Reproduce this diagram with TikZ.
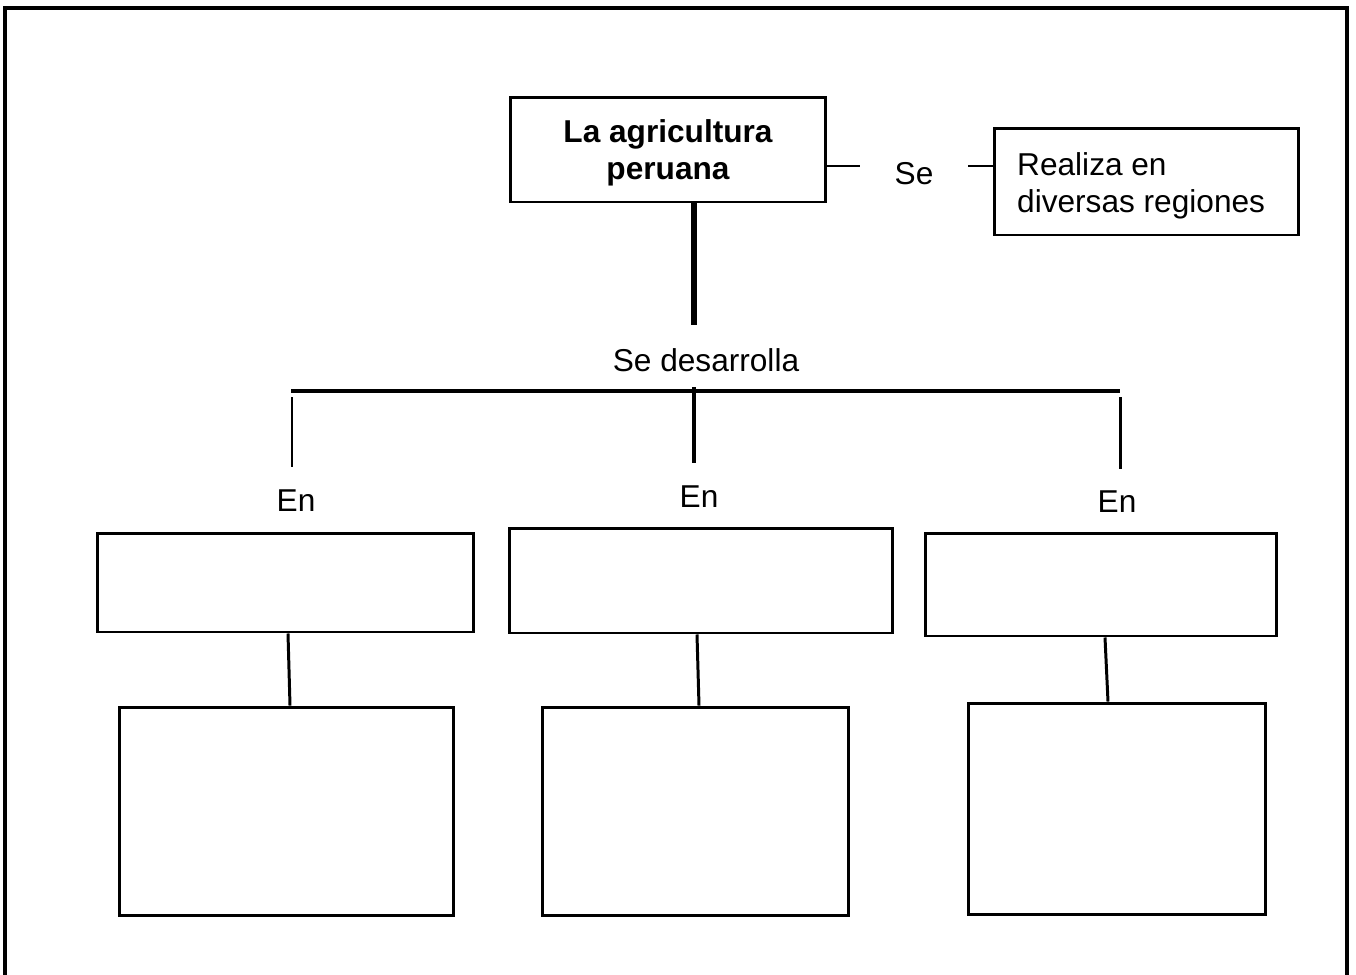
\documentclass[tikz,border=0pt]{standalone}
\usepackage{fontspec}
\setmainfont{Liberation Sans}
\usetikzlibrary{positioning, calc}

\begin{document}
\begin{tikzpicture}[
        x=0.02cm, y=-0.02cm,
        box/.style={draw, line width=1.7pt, inner sep=0pt},
        label_text/.style={font=\fontsize{18}{21}\selectfont, align=center},
        thin_line/.style={line width=1.7pt},
        bar_line/.style={line width=2.4pt},
        thick_line/.style={line width=3.3pt}
    ]
    \useasboundingbox (0,0) rectangle (1356,974);

    % --- Frame ---
    \draw[line width=2.6pt] (5,990) -- (5,8) -- (1347,8) -- (1347,990);

    % --- Top ---
    \node[box, minimum width=6.32cm, minimum height=2.1cm] (main_box) at (668,149.5) {};
    \node[label_text, font=\fontsize{18}{21}\selectfont\bfseries] (main_txt) at (668,153) {La agricultura\\peruana};
    \node[label_text] (lbl_se) at (914,174) {Se};
    \node[box, minimum width=6.1cm, minimum height=2.14cm] (side_box) at (1146.5,181.5) {};
    \node[label_text, align=left, anchor=west] (side_txt) at (1011,186) {Realiza en\\diversas regiones};

    \coordinate (se_in) at (860,166);
    \coordinate (se_out) at (968,166);
    \draw[thin_line] (main_box.east |- se_in) -- (se_in);
    \draw[thin_line] (se_out) -- (side_box.west |- se_out);

    % --- Se desarrolla ---
    \coordinate (dev_top) at (694,325);
    \draw[thick_line] (main_box.south -| dev_top) -- (dev_top);
    \node[label_text] (lbl_dev) at (706,360) {Se desarrolla};

    \coordinate (bar_l) at (291,391);
    \coordinate (bar_r) at (1120,391);
    \coordinate (bar_m) at (694,387);
    \draw[bar_line] (bar_l) -- (bar_r);

    % --- En ---
    \node[label_text] (en_l) at (296,501) {En};
    \node[label_text] (en_m) at (699,497) {En};
    \node[label_text] (en_r) at (1117,502) {En};

    \coordinate (stub_l) at (292,467);
    \coordinate (stub_m) at (694,463);
    \coordinate (stub_r) at (1120,469);
    \draw[thin_line] (stub_l |- 0,397) -- (stub_l);
    \draw[line width=2.8pt] (bar_m) -- (stub_m);
    \draw[thin_line] (stub_r |- 0,397) -- (stub_r);

    % --- Middle boxes ---
    \node[box, minimum width=7.54cm, minimum height=1.98cm] (mid_left) at (285.5,582.5) {};
    \node[box, minimum width=7.68cm, minimum height=2.1cm] (mid_mid) at (701,580.5) {};
    \node[box, minimum width=7.04cm, minimum height=2.06cm] (mid_right) at (1101,584.5) {};

    % --- Lower boxes ---
    \node[box, minimum width=6.7cm, minimum height=4.18cm] (low_left) at (286.5,811.5) {};
    \node[box, minimum width=6.14cm, minimum height=4.18cm] (low_mid) at (695.5,811.5) {};
    \node[box, minimum width=5.96cm, minimum height=4.24cm] (low_right) at (1117,809) {};

    \draw[thin_line] (mid_left.south -| 288,0) -- (low_left.north -| 290,0);
    \draw[thin_line] (mid_mid.south -| 697,0) -- (low_mid.north -| 699,0);
    \draw[thin_line] (mid_right.south -| 1105,0) -- (low_right.north -| 1108,0);

\end{tikzpicture}
\end{document}
